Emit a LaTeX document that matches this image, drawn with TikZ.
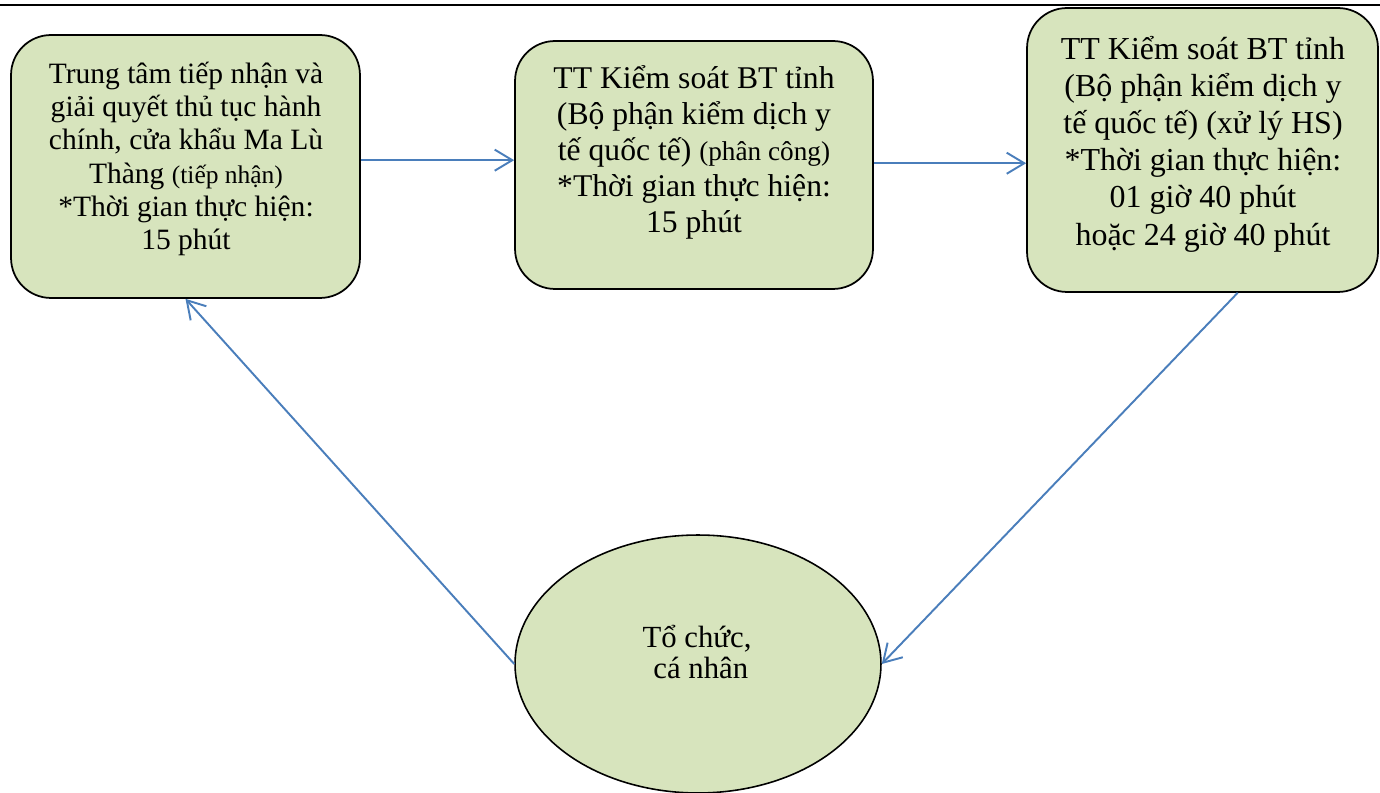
\documentclass[tikz,border=0pt]{standalone}
\usepackage{fontspec}
\setmainfont{Liberation Serif}
\usetikzlibrary{positioning}
\usetikzlibrary{shapes.geometric, arrows.meta}

\definecolor{boxfill}{HTML}{D7E4BD}
\definecolor{arrowblue}{HTML}{4A7EBB}
\newcommand{\nhochu}[2][14.5]{{\fontsize{#1}{#1}\selectfont #2}}

\begin{document}
\begin{tikzpicture}[x=0.02cm, y=-0.02cm,
  box/.style={draw, line width=1pt, fill=boxfill, rounded corners=0.8cm},
  oval/.style={ellipse, draw, line width=0.9pt, fill=boxfill},
  txt/.style={align=center, inner sep=0pt, font=\fontsize{18}{20.4}\selectfont},
  flow/.style={draw=arrowblue, line width=1.1pt, -{Straight Barb[length=10pt,width=12pt]}}]

  \useasboundingbox (0,0) rectangle (1380,793);
  \draw[line width=1.5pt] (0,5) -- (1380,5); % đường kẻ trên cùng

  \node[box, minimum width=6.98cm, minimum height=5.26cm] (b1) at (185.5,166.5) {}; % tiếp nhận
  \node[box, minimum width=7.16cm, minimum height=4.96cm] (b2) at (694,165) {}; % phân công
  \node[box, minimum width=7.02cm, minimum height=5.68cm] (b3) at (1202.5,150) {}; % xử lý HS
  \node[oval, minimum width=7.32cm, minimum height=5.16cm] (el) at (698,664) {}; % tổ chức, cá nhân

  \node[txt, font=\fontsize{16.8}{19}\selectfont] (t1) at (186,159)
    {Trung tâm tiếp nhận và\\giải quyết thủ tục hành\\chính, cửa khẩu Ma Lù\\Thàng \nhochu{(tiếp nhận)}\\*Thời gian thực hiện:\\15 phút};
  \node[txt] (t2) at (694,152.5)
    {TT Kiểm soát BT tỉnh\\(Bộ phận kiểm dịch y\\tế quốc tế) \nhochu[15.5]{(phân công)}\\*Thời gian thực hiện:\\15 phút};
  \node[txt, font=\fontsize{18.2}{21.2}\selectfont] (t3) at (1203,144)
    {TT Kiểm soát BT tỉnh\\(Bộ phận kiểm dịch y\\tế quốc tế) (xử lý HS)\\*Thời gian thực hiện:\\01 giờ 40 phút\\hoặc 24 giờ 40 phút};
  \node[txt, font=\fontsize{17.5}{18}\selectfont] (t4) at (697,652) {Tổ chức,\\\ cá nhân};

  \draw[flow] ([yshift=3.6pt]b1.east) -- ([yshift=3.6pt]b2.west |- b1.east); % sang phân công
  \draw[flow] ([yshift=1pt]b2.east) -- ([yshift=1pt]b3.west |- b2.east); % sang xử lý
  \draw[flow] ([xshift=20pt]b3.south) -- (el.east); % trả kết quả
  \draw[flow] (el.west) -- (b1.south); % nộp hồ sơ

\end{tikzpicture}
\end{document}
